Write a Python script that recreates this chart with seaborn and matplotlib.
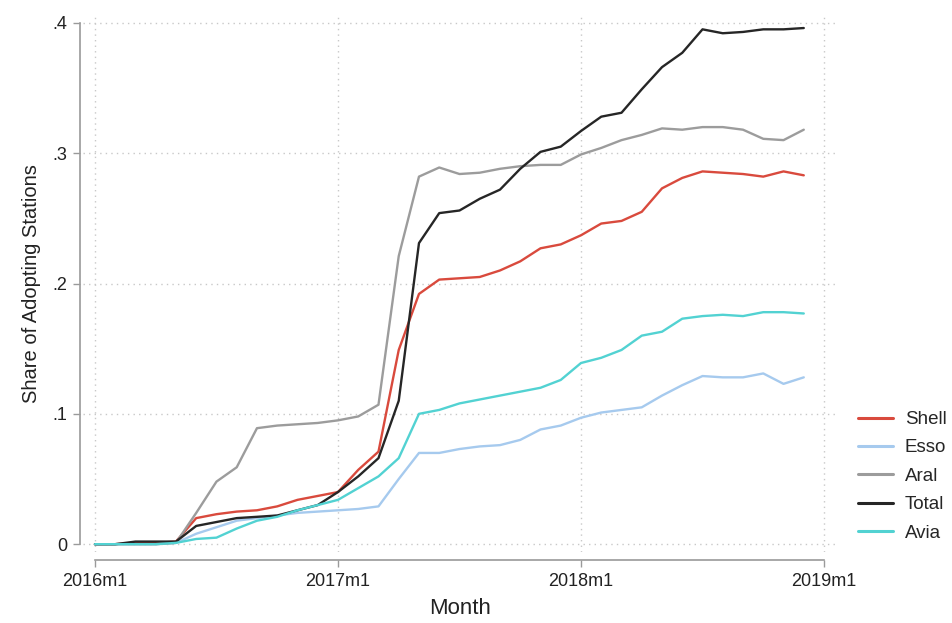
import numpy as np
import pandas as pd
import seaborn as sns
import matplotlib.pyplot as plt

# ------------------------- data -------------------------
# month index 0 = 2016m1 ... 35 = 2018m12
months = list(range(36))

shell = [0, 0, 0.001, 0.001, 0.002, 0.020, 0.023, 0.025, 0.026, 0.029, 0.034, 0.037,
         0.040, 0.057, 0.071, 0.149, 0.192, 0.203, 0.204, 0.205, 0.210, 0.217, 0.227, 0.230,
         0.237, 0.246, 0.248, 0.255, 0.273, 0.281, 0.286, 0.285, 0.284, 0.282, 0.286, 0.283]

esso = [0, 0, 0, 0, 0.001, 0.008, 0.013, 0.018, 0.020, 0.022, 0.024, 0.025,
        0.026, 0.027, 0.029, 0.050, 0.070, 0.070, 0.073, 0.075, 0.076, 0.080, 0.088, 0.091,
        0.097, 0.101, 0.103, 0.105, 0.114, 0.122, 0.129, 0.128, 0.128, 0.131, 0.123, 0.128]

aral = [0, 0, 0, 0, 0.001, 0.024, 0.048, 0.059, 0.089, 0.091, 0.092, 0.093,
        0.095, 0.098, 0.107, 0.221, 0.282, 0.289, 0.284, 0.285, 0.288, 0.290, 0.291, 0.291,
        0.299, 0.304, 0.310, 0.314, 0.319, 0.318, 0.320, 0.320, 0.318, 0.311, 0.310, 0.318]

total = [0, 0, 0.002, 0.002, 0.002, 0.014, 0.017, 0.020, 0.021, 0.022, 0.026, 0.030,
         0.040, 0.052, 0.066, 0.110, 0.231, 0.254, 0.256, 0.265, 0.272, 0.288, 0.301, 0.305,
         0.317, 0.328, 0.331, 0.349, 0.366, 0.377, 0.395, 0.392, 0.393, 0.395, 0.395, 0.396]

avia = [0, 0, 0, 0, 0.001, 0.004, 0.005, 0.012, 0.018, 0.021, 0.026, 0.030,
        0.034, 0.043, 0.052, 0.066, 0.100, 0.103, 0.108, 0.111, 0.114, 0.117, 0.120, 0.126,
        0.139, 0.143, 0.149, 0.160, 0.163, 0.173, 0.175, 0.176, 0.175, 0.178, 0.178, 0.177]

brands = ['Shell', 'Esso', 'Aral', 'Total', 'Avia']
colors = ['#d94a3d', '#a6caee', '#9c9c9c', '#262626', '#52d2d2']

xtick_pos = [0, 12, 24, 36]
xtick_labels = ['2016m1', '2017m1', '2018m1', '2019m1']
ytick_pos = [0, 0.1, 0.2, 0.3, 0.4]
ytick_labels = ['0', '.1', '.2', '.3', '.4']


# long format for seaborn
df = pd.concat([
    pd.DataFrame({'month': months, 'share': vals, 'brand': name})
    for name, vals in zip(brands, [shell, esso, aral, total, avia])
])

# ------------------------- plot -------------------------
sns.set_theme(style='white')
plt.rcParams['font.family'] = ['Liberation Sans', 'DejaVu Sans']

fig = plt.figure(figsize=(9.52, 6.23), dpi=100)
ax = fig.add_axes([83 / 952, 1 - 552 / 623, (838 - 83) / 952, (552 - 15) / 623])

sns.lineplot(data=df, x='month', y='share', hue='brand', hue_order=brands,
             palette=dict(zip(brands, colors)), linewidth=1.7, ax=ax)

ax.set_xlim(-0.59, 36.69)
ax.set_ylim(-0.006, 0.406)

# dotted grid like stata
ax.set_xticks(xtick_pos)
ax.set_xticklabels(xtick_labels)
ax.set_yticks(ytick_pos)
ax.set_yticklabels(ytick_labels)
ax.grid(True, linestyle=(0, (1, 3)), color='#c8c8c8', linewidth=1)

for side in ['top', 'right']:
    ax.spines[side].set_visible(False)
ax.spines['left'].set_position(('outward', 2.5))
ax.spines['bottom'].set_position(('outward', 6))
ax.spines['left'].set_bounds(0, 0.4)
ax.spines['bottom'].set_bounds(0, 36)
for side in ['left', 'bottom']:
    ax.spines[side].set_color('#9a9a9a')
    ax.spines[side].set_linewidth(1.2)
ax.tick_params(axis='both', length=5, width=1, color='#9a9a9a', labelcolor='#222222',
               labelsize=13, left=True, bottom=True, pad=4)

ax.set_xlabel('Month', fontsize=16, color='#222222', labelpad=6)
ax.set_ylabel('Share of Adopting Stations', fontsize=14.5, color='#222222', labelpad=8)

leg = ax.legend(loc='upper left', bbox_to_anchor=(858 / 952, 1 - 411 / 623),
                bbox_transform=fig.transFigure, frameon=False, fontsize=13.5,
                handlelength=1.85, handletextpad=0.65, labelspacing=0.6,
                borderaxespad=0, borderpad=0)
for line in leg.get_lines():
    line.set_linewidth(2.2)

fig.savefig('out.png', dpi=100)
